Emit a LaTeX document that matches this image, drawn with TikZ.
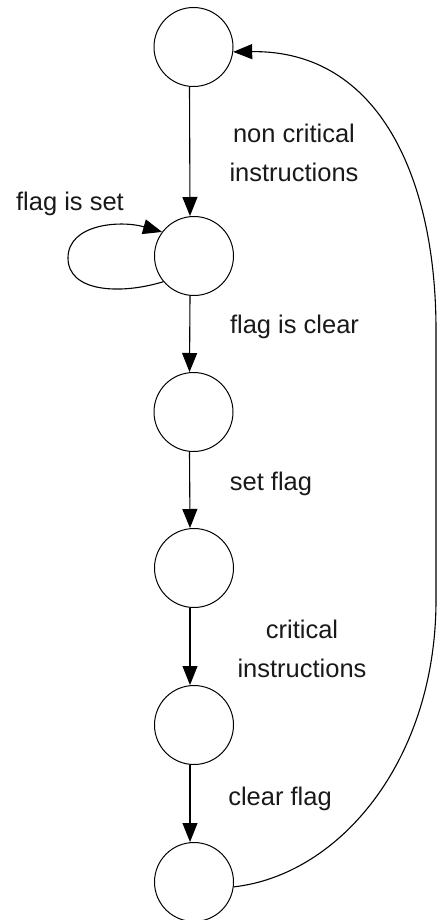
\documentclass[tikz,border=0pt]{standalone}
\usepackage{fontspec}
\setmainfont{Liberation Sans}
\usetikzlibrary{arrows.meta}
\begin{document}
\begin{tikzpicture}[x=1pt,y=-1pt,
  state/.style={circle,draw,line width=1pt,minimum size=79pt,inner sep=0pt},
  edge/.style={line width=1.1pt,-{Triangle[length=19pt,width=15pt]}},
  lbl/.style={font=\fontsize{25.5}{39}\selectfont,align=center,text=black!90}]
\useasboundingbox (0,0) rectangle (437,920);

% states, top to bottom
\node[state] (c1) at (193.5,47) {};
\node[state] (c2) at (194,256) {};
\node[state] (c3) at (193.5,412) {};
\node[state] (c4) at (194,568) {};
\node[state] (c5) at (194,725) {};
\node[state] (c6) at (194,882) {};

% straight transitions
\draw[edge] ([xshift=-4pt]c1.south) -- ([xshift=-4pt]c2.north);
\draw[edge] ([xshift=-4pt]c2.south) -- ([xshift=-4pt]c3.north);
\draw[edge] ([xshift=-4pt]c3.south) -- ([xshift=-4pt]c4.north);
\draw[edge] ([xshift=-4pt]c4.south) -- ([xshift=-4pt]c5.north);
\draw[edge] ([xshift=-4pt]c5.south) -- ([xshift=-4pt]c6.north);

% self loop while the flag is set
\draw[edge] (c2.220) .. controls (120,295) and (68,292) .. (68,258)
  .. controls (68,224) and (120,220) .. (c2.143);

% return from the last state to the first
\draw[edge] (c6.-7) .. controls (340,875) and (436,760) .. (436,600)
  -- (436,330) .. controls (436,180) and (380,50) .. (c1.-7);

% labels (base anchor of a two-line label is its last baseline)
\node[lbl,anchor=base] (l1) at (294,182) {non critical\\instructions};
\node[lbl,anchor=base] (l2) at (70,210) {flag is set};
\node[lbl,anchor=base] (l3) at (294.5,333) {flag is clear};
\node[lbl,anchor=base] (l4) at (271,490) {set flag};
\node[lbl,anchor=base] (l5) at (302,677) {critical\\instructions};
\node[lbl,anchor=base] (l6) at (280,805) {clear flag};
\end{tikzpicture}
\end{document}
